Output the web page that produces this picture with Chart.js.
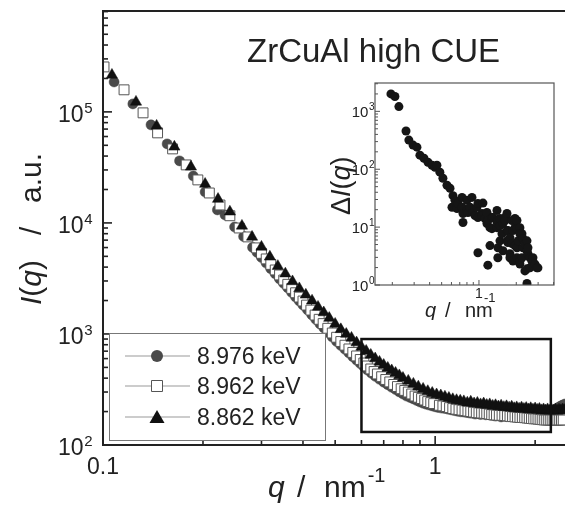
<!DOCTYPE html>
<html>
<head>
<meta charset="utf-8">
<script src="https://cdn.jsdelivr.net/npm/chart.js@4.4.0/dist/chart.umd.min.js"></script>
<style>
body { margin: 0; background: #fff; }
#wrap { position: relative; width: 565px; height: 510px; }
#main { position: absolute; left: 0; top: 0; }
#inset { position: absolute; left: 325px; top: 75px; }
</style>
</head>
<body>
<div id="wrap">
<canvas id="main" width="565" height="510"></canvas>
<canvas id="inset" width="240" height="245"></canvas>
</div>
<script>
// series labels
const labels = ["8.976 keV", "8.962 keV", "8.862 keV"];

// 8.976 keV, filled grey circles
const qCircle = [
    0.108, 0.123, 0.1395, 0.156, 0.170, 0.187, 0.203, 0.221, 0.233, 0.249,
    0.265, 0.282, 0.291, 0.30, 0.31, 0.32, 0.33, 0.34, 0.35, 0.36,
    0.37, 0.38, 0.39, 0.40, 0.4125, 0.425, 0.4375, 0.45, 0.4625, 0.475,
    0.49, 0.505, 0.52, 0.535, 0.55, 0.565, 0.58, 0.595, 0.61, 0.625,
    0.6425, 0.66, 0.68, 0.70, 0.72, 0.74, 0.76, 0.78, 0.80, 0.82,
    0.84, 0.86, 0.88, 0.90, 0.92, 0.94, 0.96, 0.98, 1.00, 1.02,
    1.045, 1.07, 1.095, 1.12, 1.145, 1.17, 1.195, 1.22, 1.245, 1.27,
    1.295, 1.32, 1.345, 1.37, 1.395, 1.42, 1.445, 1.47, 1.495, 1.52,
    1.55, 1.58, 1.61, 1.64, 1.67, 1.70, 1.73, 1.76, 1.79, 1.82,
    1.85, 1.88, 1.91, 1.94, 1.97, 2.00, 2.03, 2.06, 2.09, 2.12,
    2.15, 2.18, 2.21, 2.24, 2.27, 2.30, 2.33, 2.36, 2.39, 2.42,
    2.46];
const iCircle = [
    1.86e5, 1.18e5, 7.64e4, 5.15e4, 3.62e4, 2.65e4, 1.90e4, 1.31e4, 1.18e4, 9200,
    7550, 6020, 5420, 4880, 4350, 3870, 3480, 3130, 2850, 2600,
    2360, 2150, 1980, 1820, 1650, 1490, 1350, 1230, 1130, 1030,
    938, 855, 788, 727, 674, 624, 581, 541, 506, 474,
    444, 416, 391, 368, 349, 331, 316, 301, 288, 276,
    268, 260, 252, 244, 238, 233, 229, 225, 221, 218,
    215, 213, 210, 207, 204, 201, 199, 198, 196, 194,
    193, 190, 192, 188, 191, 187, 189, 185, 186, 182,
    184, 179, 183, 180, 184, 181, 186, 182, 185, 181,
    187, 183, 188, 184, 186, 189, 183, 187, 184, 188,
    186, 190, 193, 198, 202, 207, 213, 220, 224, 229,
    234];

// 8.962 keV, open squares
const qSquare = [
    0.1007, 0.1157, 0.132, 0.146, 0.162, 0.178, 0.193, 0.209, 0.225, 0.241,
    0.257, 0.273, 0.29, 0.30, 0.31, 0.32, 0.33, 0.34, 0.35, 0.36,
    0.37, 0.38, 0.39, 0.40, 0.41, 0.4225, 0.435, 0.4475, 0.46, 0.475,
    0.49, 0.505, 0.52, 0.535, 0.55, 0.565, 0.58, 0.595, 0.61, 0.625,
    0.64, 0.655, 0.67, 0.69, 0.71, 0.73, 0.75, 0.77, 0.79, 0.81,
    0.83, 0.85, 0.87, 0.89, 0.91, 0.93, 0.95, 0.97, 0.99, 1.03,
    1.055, 1.08, 1.105, 1.13, 1.155, 1.18, 1.205, 1.23, 1.255, 1.28,
    1.305, 1.33, 1.355, 1.38, 1.405, 1.43, 1.455, 1.48, 1.505, 1.53,
    1.56, 1.59, 1.62, 1.65, 1.68, 1.71, 1.74, 1.77, 1.80, 1.83,
    1.86, 1.89, 1.92, 1.95, 1.98, 2.01, 2.04, 2.07, 2.10, 2.13,
    2.16, 2.19, 2.22, 2.25, 2.28, 2.31, 2.34, 2.37, 2.40, 2.43];
const iSquare = [
    2.54e5, 1.58e5, 9.8e4, 6.47e4, 4.64e4, 3.33e4, 2.44e4, 1.86e4, 1.45e4, 1.16e4,
    9000, 7480, 5960, 5320, 4740, 4230, 3770, 3400, 3060, 2800,
    2570, 2350, 2150, 1980, 1820, 1640, 1480, 1355, 1240, 1125,
    1020, 934, 855, 792, 733, 682, 634, 589, 548, 515,
    484, 459, 436, 412, 389, 370, 351, 336, 321, 310,
    300, 288, 276, 269, 262, 254, 246, 241, 236, 228,
    225, 222, 217, 213, 210, 208, 206, 204, 202, 200,
    198, 196, 195, 194, 193, 192, 190, 188, 187, 186,
    185, 185, 184, 183, 181, 180, 179, 178, 177, 177,
    176, 175, 174, 173, 172, 172, 171, 170, 169, 168,
    168, 168, 168, 168, 168, 168, 168, 168, 168, 168];

// 8.862 keV, filled black triangles
const qTriangle = [
    0.1064, 0.1257, 0.145, 0.164, 0.184, 0.203, 0.222, 0.241, 0.262, 0.281,
    0.30, 0.318, 0.336, 0.354, 0.372, 0.39, 0.408, 0.426, 0.444, 0.462,
    0.48, 0.50, 0.52, 0.54, 0.56, 0.58, 0.60, 0.62, 0.64, 0.66,
    0.68, 0.70, 0.72, 0.74, 0.76, 0.78, 0.80, 0.83, 0.86, 0.89,
    0.92, 0.95, 0.98, 1.01, 1.04, 1.07, 1.10, 1.13, 1.16, 1.19,
    1.22, 1.25, 1.28, 1.31, 1.34, 1.37, 1.40, 1.43, 1.46, 1.49,
    1.52, 1.55, 1.58, 1.61, 1.64, 1.67, 1.70, 1.73, 1.76, 1.79,
    1.82, 1.85, 1.88, 1.91, 1.94, 1.97, 2.00, 2.03, 2.06, 2.09,
    2.12, 2.15, 2.18, 2.21, 2.24, 2.27, 2.30, 2.33, 2.36, 2.39,
    2.42, 2.45];
const iTriangle = [
    2.15e5, 1.23e5, 7.48e4, 4.84e4, 3.20e4, 2.24e4, 1.64e4, 1.26e4, 9400, 7480,
    6080, 4950, 4080, 3490, 2970, 2570, 2250, 1990, 1750, 1560,
    1390, 1230, 1100, 998, 920, 836, 764, 703, 647, 600,
    560, 525, 494, 469, 445, 423, 401, 378, 355, 335,
    320, 305, 294, 285, 279, 272, 265, 258, 253, 250,
    247, 240, 245, 236, 239, 232, 236, 229, 232, 225,
    228, 222, 226, 219, 223, 217, 221, 214, 218, 212,
    217, 211, 215, 209, 214, 208, 213, 207, 211, 205,
    209, 204, 209, 203, 208, 204, 209, 203, 208, 205,
    209, 206];

// inset: difference curve
const qInset = [0.195, 0.210, 0.226, 0.258, 0.272, 0.294, 0.316, 0.334, 0.360, 0.388, 0.418, 0.442, 0.458, 0.484, 0.512, 0.552, 0.584, 0.606, 0.617, 0.640, 0.665, 0.677, 0.730, 0.730, 0.743, 0.743, 0.800, 0.800, 0.815, 0.846, 0.878, 0.895, 0.929, 0.963, 0.981, 0.981, 0.981, 1.057, 1.057, 1.077, 1.118, 1.160, 1.160, 1.18, 1.18, 1.227, 1.227, 1.273, 1.273, 1.297, 1.397, 1.397, 1.397, 1.423, 1.423, 1.42, 1.477, 1.477, 1.477, 1.533, 1.562, 1.562, 1.621, 1.621, 1.682, 1.682, 1.682, 1.71, 1.71, 1.778, 1.778, 1.778, 1.845, 1.845, 1.880, 1.880, 1.951, 1.951, 1.951, 2.025, 2.025, 2.025, 2.025, 2.063, 2.14, 2.14, 2.14, 2.14, 2.222, 2.222, 2.264, 2.264, 2.349, 2.349, 2.44, 2.44, 2.44, 2.44, 2.483, 2.483, 2.58, 2.58, 2.675, 2.725, 2.830, 2.93, 2.991];
const dInset = [2000, 1810, 1210, 458, 319, 261, 241, 175, 155, 132, 117, 108, 117, 89, 70, 53, 47, 22, 35, 29, 21, 26, 22, 32.6, 17.2, 12, 19.4, 29, 17.9, 22, 32.6, 17.9, 15.8, 22, 14.6, 25.6, 3.6, 17.2, 15.8, 26, 14.1, 11.5, 17.9, 13, 2.2, 9.8, 4.8, 9.4, 14.6, 14.6, 9.8, 12, 19.4, 13, 4.4, 2.95, 10.6, 14.1, 5.8, 7.7, 11.5, 3.9, 14.6, 13, 8.7, 17.2, 5.8, 8.7, 5.4, 6.6, 3.46, 2.95, 13, 5.2, 8.7, 2.6, 9.8, 14.1, 4.8, 13, 9.4, 2.95, 4.4, 5.8, 9.8, 7.7, 2.3, 2.6, 7.7, 2.95, 4.4, 6.3, 5.2, 1.75, 5.8, 3.9, 1.9, 1.06, 3.46, 4.4, 1.98, 2.95, 2.6, 2.95, 2.3, 1.98, 1.98];

// marked q-range box in the main plot
const boxQ = [0.6, 2.23];
const boxI = [131, 900];

const FONT = '"Liberation Sans", Arial, Helvetica, sans-serif';
const pts = (xs, ys) => xs.map((v, i) => ({ x: v, y: ys[i] }));

function txt(ctx, s, x, y, size, italic) {
    ctx.font = (italic ? "italic " : "") + size + "px " + FONT;
    ctx.fillText(s, x, y);
    return ctx.measureText(s).width;
}

// 1..9 x 10^n ticks out of the library's log scale
function niceTicks(scale) {
    return scale.ticks.map(t => t.value).filter(v => {
        if (v < scale.min * 0.999 || v > scale.max * 1.001) return false;
        const e = Math.floor(Math.log10(v) + 1e-9);
        const m = v / Math.pow(10, e);
        return Math.abs(m - Math.round(m)) < 1e-6;
    }).map(v => {
        const e = Math.floor(Math.log10(v) + 1e-9);
        return { v: v, e: e, major: Math.abs(v / Math.pow(10, e) - 1) < 1e-6 };
    });
}

function powLabel(ctx, e, rightX, baseY, size, supSize, rise) {
    ctx.font = size + "px " + FONT;
    const wb = ctx.measureText("10").width;
    ctx.font = supSize + "px " + FONT;
    const we = ctx.measureText(String(e)).width;
    const x0 = rightX - we - wb;
    txt(ctx, "10", x0, baseY, size);
    txt(ctx, String(e), x0 + wb + 0.5, baseY - rise, supSize);
}

function line(ctx, x1, y1, x2, y2) {
    ctx.beginPath(); ctx.moveTo(x1, y1); ctx.lineTo(x2, y2); ctx.stroke();
}

const mainDecor = {
    id: "mainDecor",
    afterDraw(chart) {
        const { ctx, chartArea: a, scales: { x, y } } = chart;
        ctx.save();
        ctx.strokeStyle = "#222";
        ctx.fillStyle = "#222";
        ctx.lineWidth = 2;
        ctx.beginPath();
        ctx.moveTo(a.right + 2, a.top); ctx.lineTo(a.left, a.top);
        ctx.lineTo(a.left, a.bottom); ctx.lineTo(a.right + 2, a.bottom);
        ctx.stroke();

        ctx.lineWidth = 1.6;
        niceTicks(y).forEach(t => {
            const p = y.getPixelForValue(t.v);
            line(ctx, a.left, p, a.left + (t.major ? 9 : 5), p);
            if (t.major) powLabel(ctx, t.e, 92, p + 10, 23, 15, 9);
        });
        niceTicks(x).forEach(t => {
            const p = x.getPixelForValue(t.v);
            line(ctx, p, a.bottom, p, a.bottom - (t.major ? 9 : 5));
            if (t.major) {
                ctx.font = "23px " + FONT;
                const s = t.v < 1 ? "0.1" : "1";
                const w = ctx.measureText(s).width;
                txt(ctx, s, p - w / 2, 474, 23);
            }
        });

        // q-range box
        ctx.lineWidth = 2.5;
        ctx.strokeStyle = "#111";
        const bx1 = x.getPixelForValue(boxQ[0]), bx2 = x.getPixelForValue(boxQ[1]);
        const by1 = y.getPixelForValue(boxI[1]), by2 = y.getPixelForValue(boxI[0]);
        ctx.strokeRect(bx1, by1, bx2 - bx1, by2 - by1);

        // legend
        ctx.fillStyle = "#fff";
        ctx.fillRect(109, 333, 216, 107);
        ctx.strokeStyle = "#777";
        ctx.lineWidth = 1;
        ctx.strokeRect(109.5, 333.5, 216, 107);
        const rows = [356, 386, 417];
        rows.forEach((ry, k) => {
            ctx.strokeStyle = "#999";
            ctx.lineWidth = 1;
            line(ctx, 125, ry, 190, ry);
            ctx.beginPath();
            if (k === 0) {
                ctx.fillStyle = "#4a4a4a";
                ctx.arc(157, ry, 6, 0, Math.PI * 2);
                ctx.fill();
            } else if (k === 1) {
                ctx.fillStyle = "#fff";
                ctx.strokeStyle = "#555";
                ctx.rect(151.5, ry - 5.5, 11, 11);
                ctx.fill(); ctx.stroke();
            } else {
                ctx.fillStyle = "#111";
                ctx.moveTo(157, ry - 7); ctx.lineTo(164.5, ry + 6); ctx.lineTo(149.5, ry + 6);
                ctx.closePath(); ctx.fill();
            }
            ctx.fillStyle = "#222";
            txt(ctx, labels[k], 197, ry + 8, 23);
        });

        // title
        ctx.fillStyle = "#222";
        txt(ctx, "ZrCuAl high CUE", 247, 62, 33);

        // x title
        txt(ctx, "q", 268, 497, 30, true);
        txt(ctx, "/", 297, 497, 30);
        const wn = txt(ctx, "nm", 324, 497, 30);
        txt(ctx, "-1", 324 + wn + 2, 482, 20);

        // y title
        ctx.save();
        ctx.translate(41, 305);
        ctx.rotate(-Math.PI / 2);
        let cx = 0;
        cx += txt(ctx, "I", cx, 0, 30, true);
        cx += txt(ctx, "(", cx, 0, 30);
        cx += txt(ctx, "q", cx, 0, 30, true);
        txt(ctx, ")", cx, 0, 30);
        txt(ctx, "/", 70, 0, 30);
        txt(ctx, "a.u.", 102, 0, 30);
        ctx.restore();
        ctx.restore();
    }
};

new Chart(document.getElementById("main").getContext("2d"), {
    type: "scatter",
    data: {
        datasets: [
            {
                label: labels[2],
                data: pts(qTriangle, iTriangle),
                pointStyle: "triangle",
                pointRadius: 6.5,
                backgroundColor: "#111",
                borderColor: "#111",
                borderWidth: 0.5,
                order: 0,
            },
            {
                label: labels[1],
                data: pts(qSquare, iSquare),
                pointStyle: "rect",
                pointRadius: 7,
                backgroundColor: "#fff",
                borderColor: "#555",
                borderWidth: 1,
                order: 1,
            },
            {
                label: labels[0],
                data: pts(qCircle, iCircle),
                pointStyle: "circle",
                pointRadius: 5,
                backgroundColor: "#4a4a4a",
                borderColor: "#444",
                borderWidth: 0.5,
                order: 2,
            },
        ],
    },
    options: {
        responsive: false,
        animation: false,
        devicePixelRatio: 1,
        events: [],
        layout: { autoPadding: false, padding: { left: 0, top: 11, right: 0, bottom: 0 } },
        plugins: { legend: { display: false }, tooltip: { enabled: false } },
        scales: {
            x: {
                type: "logarithmic", min: 0.1, max: 2.46,
                grid: { display: false }, border: { display: false },
                ticks: { display: false },
                afterFit(s) { s.height = 65; },
            },
            y: {
                type: "logarithmic", min: 100, max: 8.1e5,
                grid: { display: false }, border: { display: false },
                ticks: { display: false },
                afterFit(s) { s.width = 103; },
            },
        },
    },
    plugins: [mainDecor],
});

const insetDecor = {
    id: "insetDecor",
    beforeDatasetsDraw(chart) {
        const { ctx, chartArea: a } = chart;
        ctx.save();
        ctx.fillStyle = "#fff";
        ctx.fillRect(a.left, a.top, a.right - a.left, a.bottom - a.top);
        ctx.restore();
    },
    afterDraw(chart) {
        const { ctx, chartArea: a, scales: { x, y } } = chart;
        ctx.save();
        ctx.strokeStyle = "#555";
        ctx.fillStyle = "#222";
        ctx.lineWidth = 1.2;
        ctx.strokeRect(a.left, a.top, a.right - a.left, a.bottom - a.top);
        ctx.lineWidth = 1;
        niceTicks(y).forEach(t => {
            const p = y.getPixelForValue(t.v);
            line(ctx, a.left, p, a.left + (t.major ? 5 : 3), p);
            if (t.major) powLabel(ctx, t.e, a.left - 1, p + 6, 15, 10, 7);
        });
        niceTicks(x).forEach(t => {
            const p = x.getPixelForValue(t.v);
            line(ctx, p, a.bottom, p, a.bottom - (t.major ? 5 : 3));
            if (t.major && t.v === 1) {
                ctx.font = "14px " + FONT;
                txt(ctx, "1", p - ctx.measureText("1").width / 2, a.bottom + 13, 14);
            }
        });
        // x title
        txt(ctx, "q", 100, 242, 20, true);
        txt(ctx, "/", 120, 242, 20);
        txt(ctx, "nm", 140, 242, 20);
        txt(ctx, "-1", 159, 227, 13);
        // y title
        ctx.save();
        ctx.translate(25, 140);
        ctx.rotate(-Math.PI / 2);
        let cx = 0;
        cx += txt(ctx, "\u0394", cx, 0, 27);
        cx += txt(ctx, "I", cx, 0, 27, true);
        cx += txt(ctx, "(", cx, 0, 27);
        cx += txt(ctx, "q", cx, 0, 27, true);
        txt(ctx, ")", cx, 0, 27);
        ctx.restore();
        ctx.restore();
    }
};

new Chart(document.getElementById("inset").getContext("2d"), {
    type: "scatter",
    data: {
        datasets: [{
            label: "delta",
            data: pts(qInset, dInset),
            pointStyle: "circle",
            pointRadius: 4.5,
            backgroundColor: "#151515",
            borderWidth: 0,
        }],
    },
    options: {
        responsive: false,
        animation: false,
        devicePixelRatio: 1,
        events: [],
        layout: { autoPadding: false, padding: { left: 0, top: 8, right: 11, bottom: 0 } },
        plugins: { legend: { display: false }, tooltip: { enabled: false } },
        scales: {
            x: {
                type: "logarithmic", min: 0.145, max: 4.03,
                grid: { display: false }, border: { display: false },
                ticks: { display: false },
                afterFit(s) { s.height = 35; },
            },
            y: {
                type: "logarithmic", min: 1, max: 3090,
                grid: { display: false }, border: { display: false },
                ticks: { display: false },
                afterFit(s) { s.width = 50; },
            },
        },
    },
    plugins: [insetDecor],
});
</script>
</body>
</html>
